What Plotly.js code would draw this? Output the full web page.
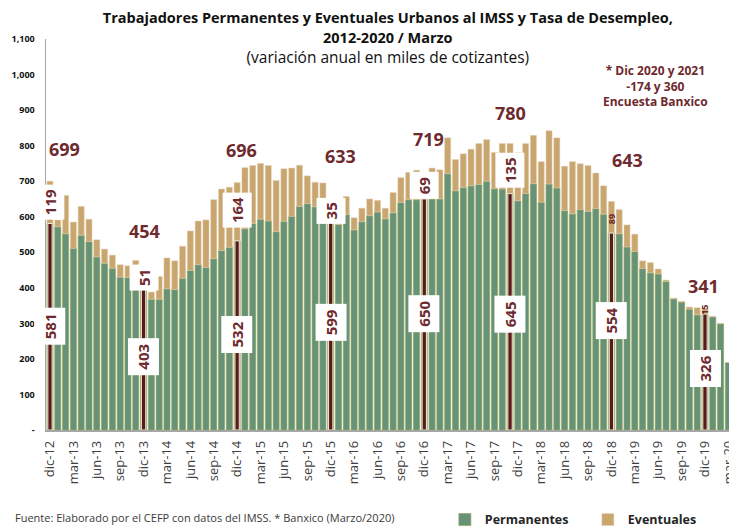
<!DOCTYPE html>
<html><head><meta charset="utf-8">
<script src="https://cdn.plot.ly/plotly-3.0.1.min.js"></script>
<style>html,body{margin:0;padding:0;background:#fff}#chart{width:729px;height:527px}</style>
</head><body><div id="chart"></div>
<script>
// ---- data ----
const months = [
  'dic-12',
  'ene-13','feb-13','mar-13','abr-13','may-13','jun-13','jul-13','ago-13','sep-13','oct-13','nov-13','dic-13',
  'ene-14','feb-14','mar-14','abr-14','may-14','jun-14','jul-14','ago-14','sep-14','oct-14','nov-14','dic-14',
  'ene-15','feb-15','mar-15','abr-15','may-15','jun-15','jul-15','ago-15','sep-15','oct-15','nov-15','dic-15',
  'ene-16','feb-16','mar-16','abr-16','may-16','jun-16','jul-16','ago-16','sep-16','oct-16','nov-16','dic-16',
  'ene-17','feb-17','mar-17','abr-17','may-17','jun-17','jul-17','ago-17','sep-17','oct-17','nov-17','dic-17',
  'ene-18','feb-18','mar-18','abr-18','may-18','jun-18','jul-18','ago-18','sep-18','oct-18','nov-18','dic-18',
  'ene-19','feb-19','mar-19','abr-19','may-19','jun-19','jul-19','ago-19','sep-19','oct-19','nov-19','dic-19',
  'ene-20','feb-20','mar-20'
];
const permanentes = [
  581,
  572,552,511,548,530,487,469,455,430,429,410,403,
  368,368,397,395,427,449,465,457,482,505,514,532,
  566,581,593,588,558,587,601,629,637,628,595,599,
  578,606,563,586,603,613,594,611,640,648,648,650,
  650,650,721,673,682,687,691,700,679,678,665,645,
  665,693,641,692,681,617,608,620,615,623,607,554,
  552,515,502,454,442,439,418,369,360,340,324,326,
  318,299,190
];
const eventuales = [
  119,
  19,108,74,81,63,48,40,37,35,33,67,51,
  20,64,87,81,90,111,123,134,166,173,169,164,
  172,163,157,156,144,148,136,116,78,69,100,35,
  40,51,34,38,47,33,30,57,70,77,83,69,
  87,82,101,88,95,103,115,117,102,128,141,135,
  141,136,114,150,141,125,147,129,129,100,80,89,
  68,62,49,22,29,14,4,2,2,6,20,15,
  2,1,0
];
const highlighted = ['dic-12','dic-13','dic-14','dic-15','dic-16','nov-17','dic-18','dic-19'];
const tickLabels = ['dic-12','mar-13','jun-13','sep-13','dic-13','mar-14','jun-14','sep-14','dic-14','mar-15','jun-15','sep-15','dic-15','mar-16','jun-16','sep-16','dic-16','mar-17','jun-17','sep-17','dic-17','mar-18','jun-18','sep-18','dic-18','mar-19','jun-19','sep-19','dic-19','mar-20'];
const yTickVals = [0,100,200,300,400,500,600,700,800,900,1000,1100];
const yTickText = ['-','100','200','300','400','500','600','700','800','900','1,000','1,100'];
const totalLabels = ['699','454','696','633','719','780','643','341'];
const permLabels  = ['581','403','532','599','650','645','554','326'];
const eventLabels = ['119','51','164','35','69','135','89','15'];

// ---- styling / layout ----
const FONT = "'Open Sans', 'Liberation Sans', sans-serif";
const MAROON = '#6E2A2E';
const GREEN = '#67927A';
const TAN = '#C9A66F';
const DARK = '#5A1A1C';

const hlY = months.map((m, i) => highlighted.includes(m) ? permanentes[i] : null);

const traces = [
  {type:'bar', name:'Permanentes', x:months, y:permanentes, width:0.78,
   marker:{color:GREEN, line:{color:'#93a655', width:0.7}}, hoverinfo:'x+y'},
  {type:'bar', name:'Eventuales', x:months, y:eventuales, base:permanentes, width:0.78,
   marker:{color:TAN, line:{color:'#e4d3b2', width:0.5}}, hoverinfo:'x+y'},
  {type:'bar', name:'Diciembre', x:months, y:hlY, width:0.55, showlegend:false,
   marker:{color:DARK, line:{color:'#efe9d2', width:1}}, hoverinfo:'skip'}
];

// annotation placements (x = category index, y = axis value)
const totalPos = [[1.9,790],[12.1,559],[24.5,789],[37.2,770],[48.5,820],[59.1,892],[74.0,759],[83.8,404]];
const permPos  = [[0,292],[12,205],[24,269],[36,302],[48,328],[59,326],[72,309],[84,173]];
const eventPos = [[0,641],[12,429],[24,619],[36,617],[48,689],[59,731],[72,594],[84,338]];
const smallEvent = ['89','15'];

const annotations = [];
totalLabels.forEach((t, k) => annotations.push({
  x: totalPos[k][0], y: totalPos[k][1], xref:'x', yref:'y', text:'<b>'+t+'</b>', showarrow:false,
  font:{family:FONT, size:18, color:MAROON}, xanchor:'center', yanchor:'middle'
}));
permLabels.forEach((t, k) => annotations.push({
  x: permPos[k][0], y: permPos[k][1], xref:'x', yref:'y', text:'<b>'+t+'</b>', showarrow:false,
  textangle:-90, bgcolor:'#ffffff', borderpad:5,
  font:{family:FONT, size:15, color:MAROON}, xanchor:'center', yanchor:'middle'
}));
eventLabels.forEach((t, k) => {
  const small = smallEvent.includes(t);
  annotations.push({
    x: eventPos[k][0], y: eventPos[k][1], xref:'x', yref:'y', text:'<b>'+t+'</b>', showarrow:false,
    textangle:-90, bgcolor: small ? 'rgba(0,0,0,0)' : '#ffffff', borderpad: small ? 0 : 4,
    font:{family:FONT, size: small ? 9 : 15, color:MAROON}, xanchor:'center', yanchor:'middle'
  });
});
annotations.push({
  xref:'paper', yref:'paper', x:0.893, y:0.88, showarrow:false, align:'center',
  text:'<b>* Dic 2020 y 2021<br>-174 y 360<br>Encuesta Banxico</b>',
  font:{family:FONT, size:12, color:MAROON}, xanchor:'center', yanchor:'middle'
});
annotations.push({
  xref:'paper', yref:'paper', x:-0.0483, y:-0.225, showarrow:false, align:'left',
  text:'Fuente: Elaborado por el CEFP con datos del IMSS. * Banxico (Marzo/2020)',
  font:{family:FONT, size:11, color:'#3a3a3a'}, xanchor:'left', yanchor:'middle'
});

const layout = {
  width:729, height:527,
  margin:{l:46, r:0, t:39, b:97, pad:0, autoexpand:false},
  paper_bgcolor:'#ffffff', plot_bgcolor:'#ffffff',
  barmode:'overlay',
  bargap:0,
  showlegend:true,
  title:{
    text:'<b><span style="font-size:14.5px">Trabajadores Permanentes y Eventuales Urbanos al IMSS y Tasa de Desempleo,</span></b><br>' +
         '<b><span style="font-size:14.5px">2012-2020 / Marzo</span></b><br>' +
         '<span style="font-size:15.5px">(variación anual en miles de cotizantes)</span>',
    font:{family:FONT, size:15.4, color:'#111111'},
    x:0.532, xanchor:'center', xref:'container',
    y:0.956, yanchor:'top', yref:'container'
  },
  xaxis:{
    type:'category', categoryorder:'array', categoryarray:months,
    range:[-0.513, 87.08], automargin:false,
    tickmode:'array', tickvals:tickLabels, ticktext:tickLabels,
    tickangle:-90, ticks:'', showgrid:false, zeroline:false,
    showline:true, linecolor:'#a6a6a6', linewidth:1.5,
    ticklabelstandoff:4,
    tickfont:{family:FONT, size:13, color:'#404040'},
    fixedrange:true
  },
  yaxis:{
    range:[0,1100], tickmode:'array', tickvals:yTickVals, ticktext:yTickText,
    ticks:'', showgrid:false, zeroline:false, automargin:false,
    showline:true, linecolor:'#a6a6a6', linewidth:1.5,
    ticklabelstandoff:8,
    tickfont:{family:FONT, size:9, color:'#111111', weight:'bold'},
    fixedrange:true
  },
  legend:{
    orientation:'h', x:0.584, xanchor:'left', y:-0.230, yanchor:'middle',
    font:{family:FONT, size:12.5, color:'#262626', weight:'bold'},
    entrywidth:98, entrywidthmode:'pixels', itemwidth:30,
    bgcolor:'rgba(0,0,0,0)'
  },
  annotations: annotations
};

Plotly.newPlot('chart', traces, layout, {displayModeBar:false, staticPlot:true});
</script>
</body></html>
